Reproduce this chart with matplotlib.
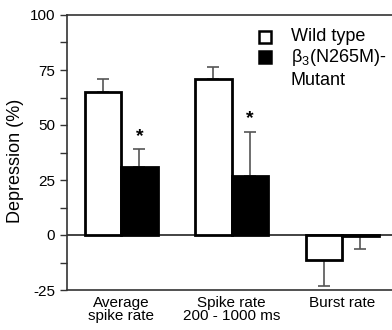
import matplotlib
matplotlib.use("Agg")
import matplotlib.pyplot as plt
from matplotlib.patches import Rectangle
import numpy as np

plt.rcParams['font.family'] = ['Liberation Sans', 'DejaVu Sans']
plt.rcParams['mathtext.fontset'] = 'custom'
plt.rcParams['mathtext.rm'] = 'Liberation Sans'
plt.rcParams['mathtext.it'] = 'Liberation Sans'

categories = ["Average\nspike rate", "Spike rate\n200 - 1000 ms", "Burst rate"]
wild_type = [65, 71, -11.5]
wild_err = [6, 5.5, 11.5]
mutant = [31, 27, -0.6]
mutant_err = [8, 20, 5.8]
sig_mutant = [True, True, False]
yticks = [-25, 0, 25, 50, 75, 100]
legend_lines = ['Wild type', 'β$_3$(N265M)-', 'Mutant']

W, H = 392, 330
fig = plt.figure(figsize=(W / 100, H / 100), dpi=100)
ax = fig.add_axes([67 / W, 1 - 290 / H, 1 - 67 / W, 275 / H])

x = np.arange(len(categories))
w = 0.33
for i in range(len(categories)):
    xw = x[i] - w / 2
    xm = x[i] + w / 2
    ax.bar(xw, wild_type[i], width=w, color='white', edgecolor='black', linewidth=2, zorder=3)
    ax.bar(xm, mutant[i], width=w, color='black', edgecolor='black', linewidth=2, zorder=3)
    for xx, v, e in [(xw, wild_type[i], wild_err[i]), (xm, mutant[i], mutant_err[i])]:
        yerr = [[0], [e]] if v >= 0 else [[e], [0]]
        ax.errorbar([xx], [v], yerr=yerr, fmt='none', ecolor='#555555', elinewidth=1.2,
                    capsize=4, capthick=1.2, zorder=2)
    if sig_mutant[i]:
        ax.text(xm, mutant[i] + mutant_err[i] + 2, '*', ha='center', va='bottom',
                fontsize=14, fontweight='bold')

ax.axhline(0, color='#222222', linewidth=1.2, zorder=1)
ax.set_xlim(-0.49, 2.45)
ax.set_ylim(-25, 100)
ax.set_yticks(yticks)
ax.set_yticklabels([str(t) for t in yticks], fontsize=11)
ax.set_yticks(np.arange(-12.5, 100, 25), minor=True)
ax.tick_params(axis='y', which='both', direction='out', length=5, width=1, color='#333333')
ax.set_xticks(x)
ax.set_xticklabels(categories, fontsize=11, linespacing=0.95)
ax.tick_params(axis='x', length=0, pad=4)
ax.spines['right'].set_visible(False)
for s in ['left', 'top', 'bottom']:
    ax.spines[s].set_color('#333333')
    ax.spines[s].set_linewidth(1.2)
ax.set_ylabel('Depression (%)', fontsize=13)
ax.yaxis.set_label_coords((24 - 67) / 325, 0.47)

# legend drawn manually
def fx(px):
    return px / W

def fy(py):
    return 1 - py / H

sq = 12
fig.patches.append(Rectangle((fx(259), fy(43)), sq / W, sq / H, transform=fig.transFigure,
                             facecolor='white', edgecolor='black', linewidth=1.8))
fig.patches.append(Rectangle((fx(259), fy(63)), sq / W, sq / H, transform=fig.transFigure,
                             facecolor='black', edgecolor='black', linewidth=1.8))
for line, base in zip(legend_lines, [41, 62, 85]):
    fig.text(fx(291), fy(base), line, fontsize=13, va='baseline', ha='left')

fig.savefig('out.png', dpi=100)
